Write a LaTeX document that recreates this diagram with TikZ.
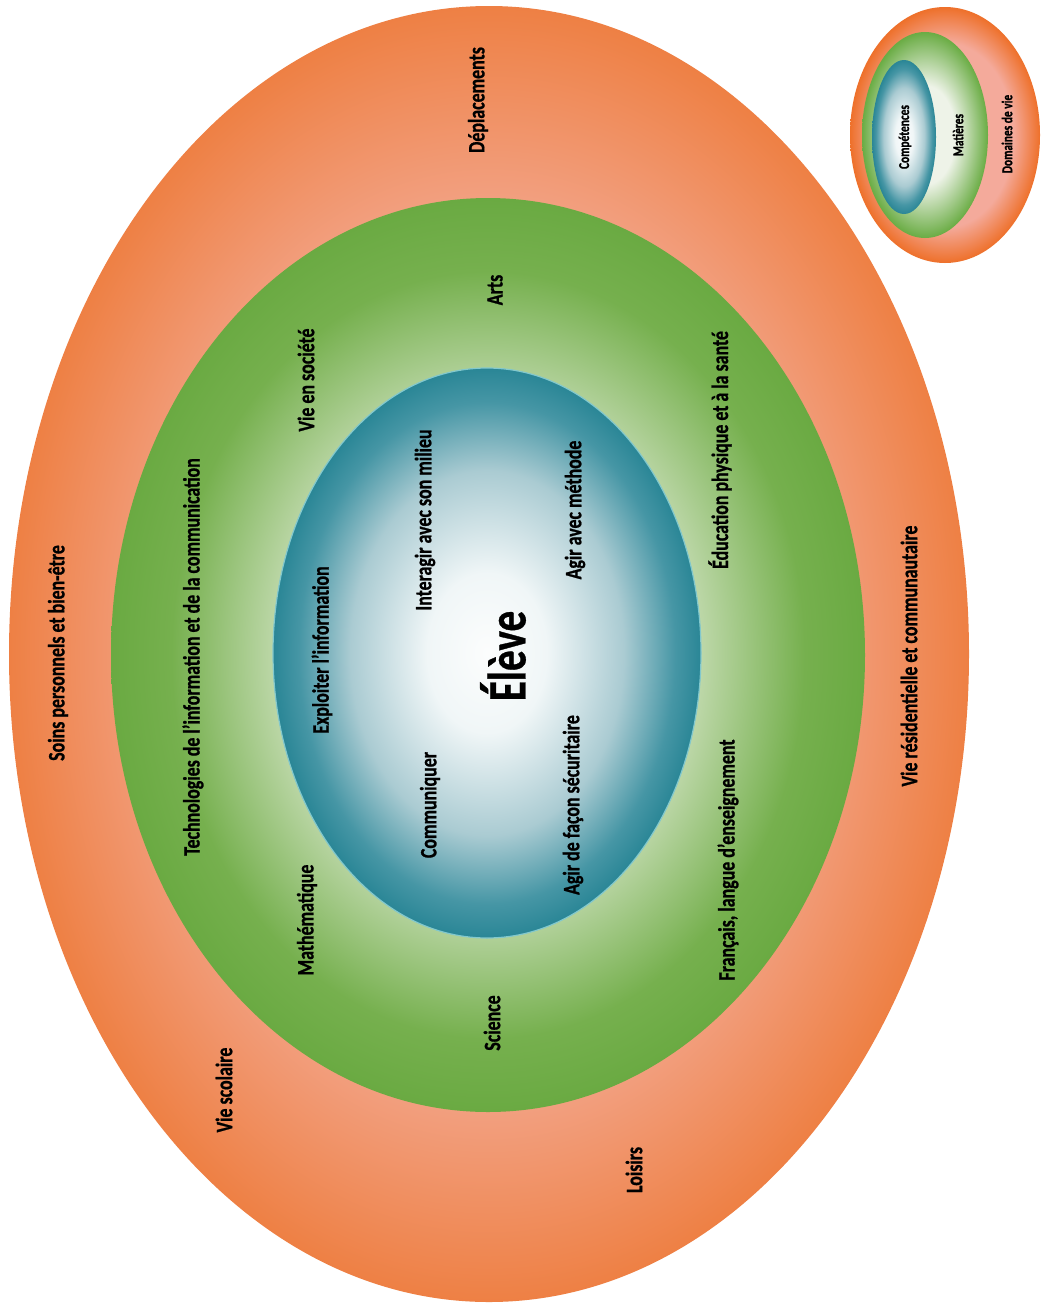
\documentclass[tikz,border=0pt]{standalone}
\usepackage{fontspec}
\setmainfont{Carlito}[FakeStretch=0.76, BoldFeatures={FakeBold=0.8}]
\newfontfamily\elevefont{Carlito}[FakeStretch=0.76, BoldFeatures={FakeBold=0.6}]
\definecolor{oA}{RGB}{246,182,162}
\definecolor{oB}{RGB}{243,166,140}
\definecolor{oC}{RGB}{238,128,68}
\definecolor{gA}{RGB}{212,228,198}
\definecolor{gB}{RGB}{190,216,170}
\definecolor{gC}{RGB}{118,176,78}
\definecolor{gD}{RGB}{106,170,66}
\definecolor{tA}{RGB}{252,253,253}
\definecolor{tB}{RGB}{240,246,247}
\definecolor{tC}{RGB}{170,203,210}
\definecolor{tD}{RGB}{70,150,165}
\definecolor{tE}{RGB}{42,134,150}
\definecolor{tRim}{RGB}{130,200,205}
\definecolor{loA}{RGB}{244,170,155}
\definecolor{loC}{RGB}{238,112,42}
\definecolor{lgA}{RGB}{238,243,232}
\definecolor{lgC}{RGB}{106,172,68}
\pgfdeclareradialshading{orangesh}{\pgfpointorigin}{color(0bp)=(oA); color(16bp)=(oB); color(25bp)=(oC); color(50bp)=(oC)}
\pgfdeclareradialshading{greensh}{\pgfpointorigin}{color(0bp)=(gA); color(14bp)=(gB); color(21bp)=(gC); color(25bp)=(gD); color(50bp)=(gD)}
\pgfdeclareradialshading{tealsh}{\pgfpointorigin}{color(0bp)=(tA); color(7bp)=(tB); color(16bp)=(tC); color(22bp)=(tD); color(25bp)=(tE); color(50bp)=(tE)}
\pgfdeclareradialshading{lorangesh}{\pgfpointorigin}{color(0bp)=(loA); color(18bp)=(loA); color(25bp)=(loC); color(50bp)=(loC)}
\pgfdeclareradialshading{lgreensh}{\pgfpointorigin}{color(0bp)=(lgA); color(12bp)=(lgA); color(25bp)=(lgC); color(50bp)=(lgC)}
\begin{document}
\begin{tikzpicture}[x=1pt,y=-1pt,
  lbl/.style={rotate=90, inner sep=0pt, font=\bfseries\fontsize{23.5}{26}\selectfont},
  biglbl/.style={rotate=90, inner sep=0pt, font=\elevefont\bfseries\fontsize{54}{58}\selectfont},
  leglbl/.style={rotate=90, inner sep=0pt, font=\bfseries\fontsize{15}{17}\selectfont}]
\useasboundingbox[fill=white] (0,0) rectangle (1044,1304);
% main rings
\shade[shading=orangesh] (489,654) ellipse [x radius=480pt, y radius=648pt];
\shade[shading=greensh] (488,655) ellipse [x radius=377pt, y radius=457pt];
\shade[shading=tealsh, draw=tRim, line width=1.2pt] (487,653) ellipse [x radius=214pt, y radius=285pt];
% legend
\shade[shading=lorangesh] (945,135) ellipse [x radius=95pt, y radius=128pt];
\shade[shading=lgreensh] (925,135) ellipse [x radius=63pt, y radius=103pt];
\shade[shading=tealsh] (904,137) ellipse [x radius=32pt, y radius=77pt];
\node[leglbl] (lcomp) at (905,137) {Compétences};
\node[leglbl] (lmat) at (958,135) {Matières};
\node[leglbl] (ldom) at (1007,134) {Domaines de vie};
% domaines de vie
\node[lbl] (soins) at (58,653) {Soins personnels et bien-être};
\node[lbl] (depl) at (478,100) {Déplacements};
\node[lbl] (viesco) at (224,1090) {Vie scolaire};
\node[lbl] (loisirs) at (634,1170) {Loisirs};
\node[lbl] (vieres) at (909,656) {Vie résidentielle et communautaire};
% matieres
\node[lbl] (tic) at (193,657) {Technologies de l’information et de la communication};
\node[lbl] (arts) at (495,290) {Arts};
\node[lbl] (socie) at (306,380) {Vie en société};
\node[lbl] (math) at (307,920) {Mathématique};
\node[lbl] (sci) at (492,1023) {Science};
\node[lbl] (franc) at (728,860) {Français, langue d’enseignement};
\node[lbl] (educ) at (720,450) {Éducation physique et à la santé};
% competences
\node[lbl] (expl) at (322,650) {Exploiter l’information};
\node[lbl] (inter) at (425,520) {Interagir avec son milieu};
\node[lbl] (comm) at (430,805) {Communiquer};
\node[lbl] (agirm) at (575,510) {Agir avec méthode};
\node[lbl] (agirs) at (573,805) {Agir de façon sécuritaire};
\node[biglbl] (eleve) at (503,656) {Élève};
\end{tikzpicture}
\end{document}
